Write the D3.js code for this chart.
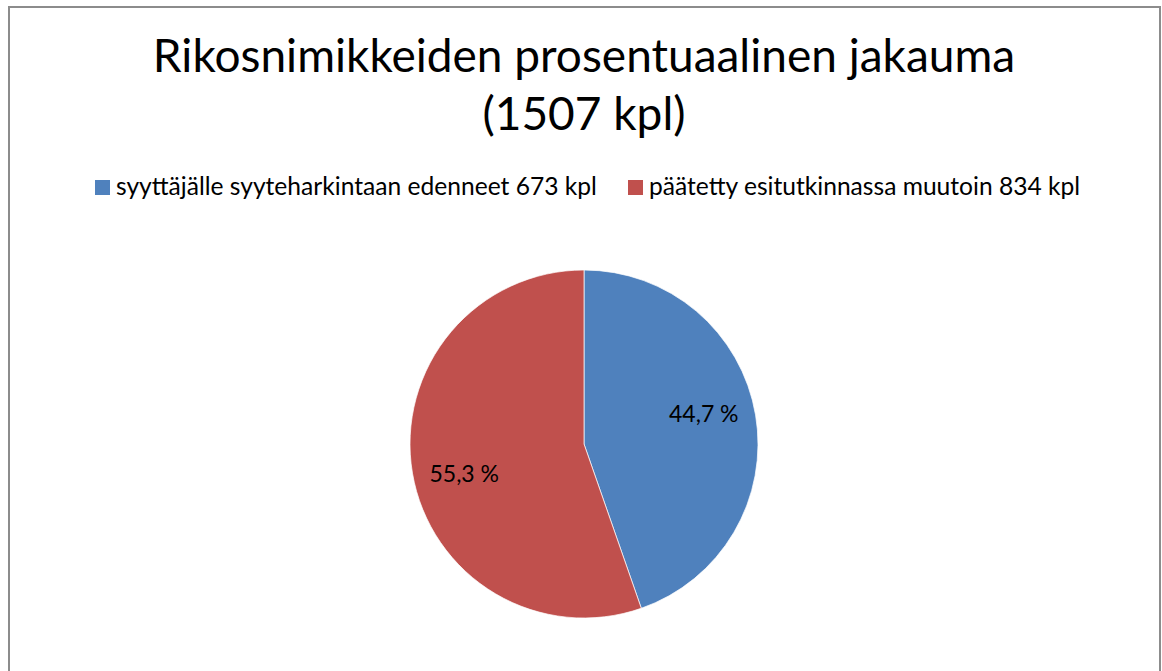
<!DOCTYPE html>
<html>
<head>
<meta charset="utf-8">
<script src="https://cdn.jsdelivr.net/npm/d3@7"></script>
<style>
  body { margin: 0; background: #fff; }
  text { font-family: Lato, "Open Sans", sans-serif; fill: #000; }
</style>
</head>
<body>
<div id="chart"></div>
<script>
// Data
const categories = ["syyttäjälle syyteharkintaan edenneet 673 kpl", "päätetty esitutkinnassa muutoin 834 kpl"];
const counts = [673, 834];
const sliceLabels = ["44,7 %", "55,3 %"];
const colors = ["#4F81BD", "#C0504D"];

const width = 1162;
const height = 671;

const svg = d3.select("#chart")
  .append("svg")
  .attr("width", width)
  .attr("height", height);

// Chart border
svg.append("rect")
  .attr("x", 9)
  .attr("y", 7)
  .attr("width", 1151)
  .attr("height", 700)
  .attr("fill", "#fff")
  .attr("stroke", "#8c8c8c")
  .attr("stroke-width", 2);

// Title
const title = svg.append("text")
  .attr("text-anchor", "middle")
  .style("font-size", "46px");
title.append("tspan").attr("x", 584).attr("y", 72).text("Rikosnimikkeiden prosentuaalinen jakauma");
title.append("tspan").attr("x", 584).attr("y", 130).text("(1507 kpl)");

// Legend
const legendX = [95, 628];
const legend = svg.append("g")
  .selectAll("g")
  .data(categories)
  .join("g")
  .attr("transform", (d, i) => `translate(${legendX[i]},180)`);

legend.append("rect")
  .attr("width", 15)
  .attr("height", 15)
  .attr("fill", (d, i) => colors[i]);

legend.append("text")
  .attr("x", 21)
  .attr("y", 15)
  .style("font-size", "24.6px")
  .text(d => d);

// Pie
const cx = 584, cy = 444, radius = 174;
const pie = d3.pie().sort(null)(counts);
const arc = d3.arc().innerRadius(0).outerRadius(radius);

const g = svg.append("g").attr("transform", `translate(${cx},${cy})`);

g.selectAll("path")
  .data(pie)
  .join("path")
  .attr("d", arc)
  .attr("fill", (d, i) => colors[i])
  .attr("stroke", "#fff")
  .attr("stroke-width", 0.7);

// labels sit a little counter-clockwise of the slice middle
const shift = 0.08;
const labelArc = d3.arc().innerRadius(radius * 0.71).outerRadius(radius * 0.71);
g.selectAll("text.lbl")
  .data(pie)
  .join("text")
  .attr("class", "lbl")
  .attr("transform", d => `translate(${labelArc.centroid({startAngle: d.startAngle - shift, endAngle: d.endAngle - shift})})`)
  .attr("text-anchor", "middle")
  .attr("dy", "0.35em")
  .style("font-size", "23px")
  .text((d, i) => sliceLabels[i]);
</script>
</body>
</html>
